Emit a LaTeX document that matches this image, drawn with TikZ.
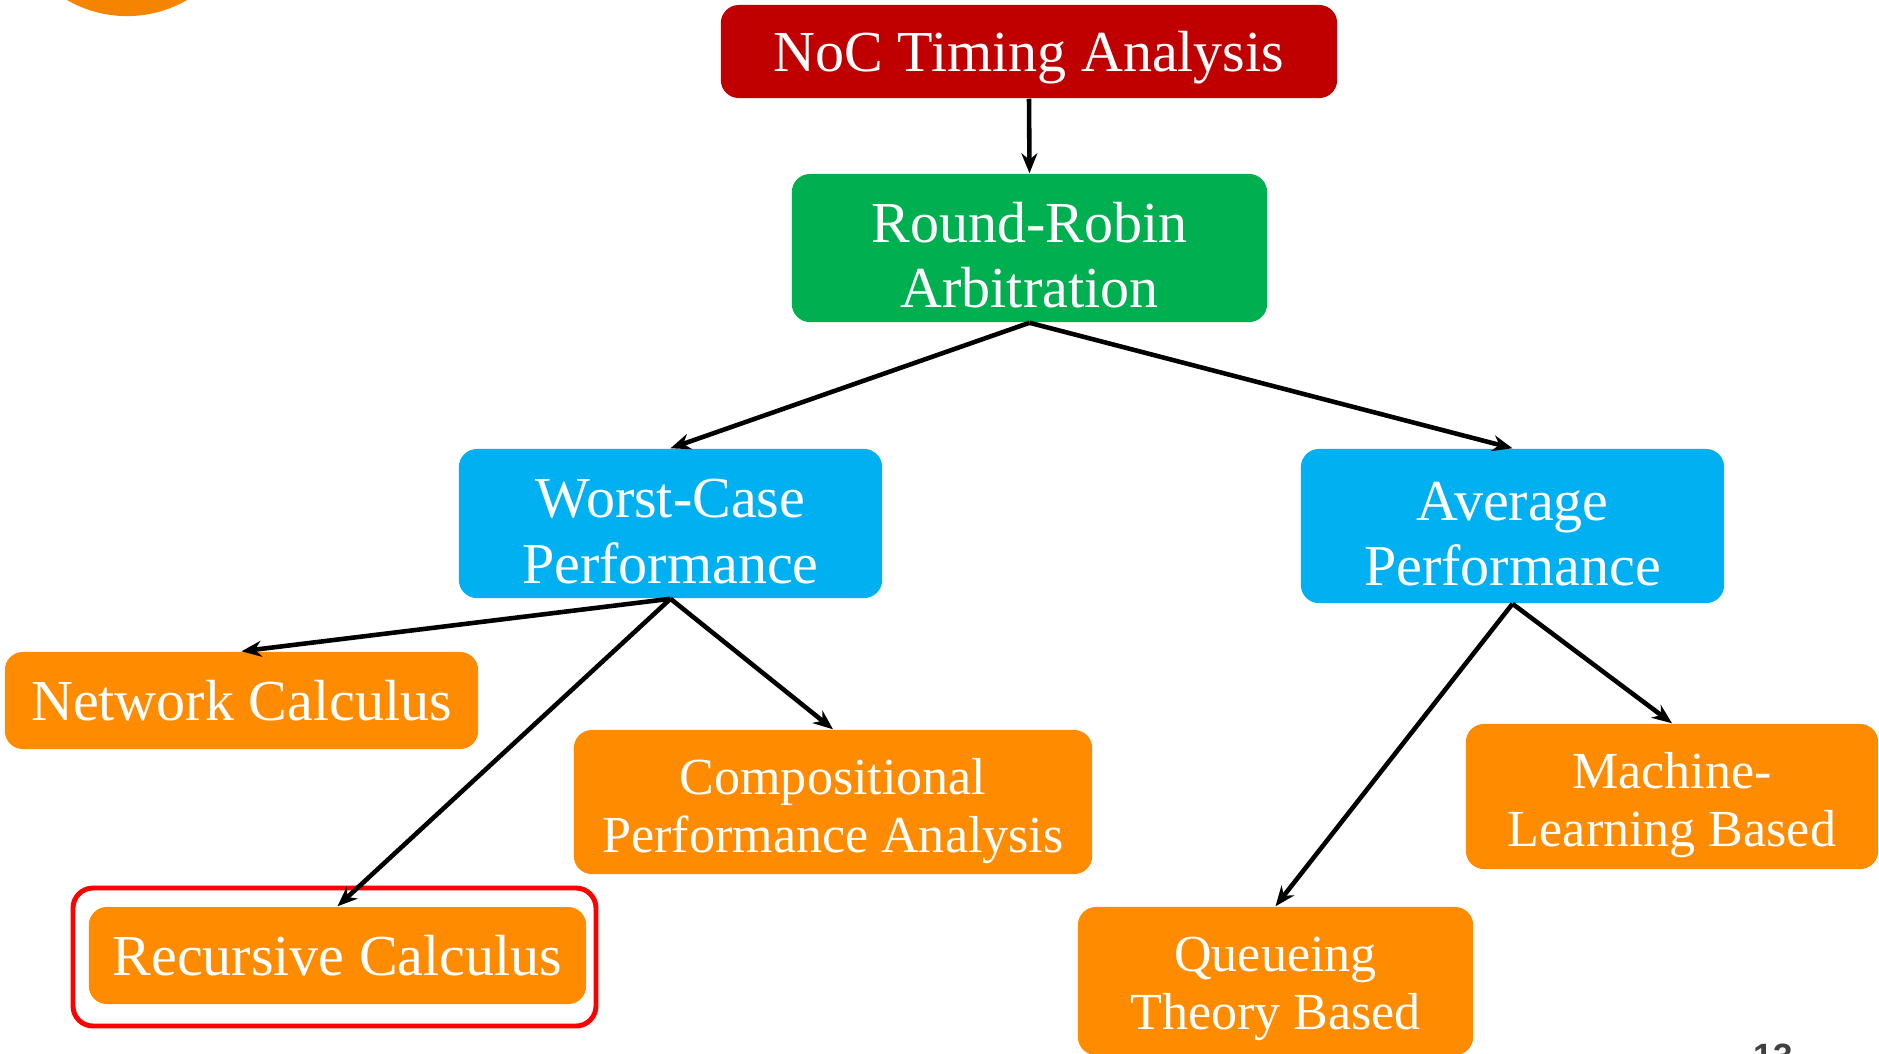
\documentclass[tikz,border=0pt]{standalone}
\usepackage{fontspec}
\setmainfont{Liberation Serif}
\newfontfamily\numfont{Liberation Sans}
\usetikzlibrary{arrows.meta,positioning}
\definecolor{nocred}{RGB}{192,0,0}
\definecolor{rrgreen}{RGB}{0,176,80}
\definecolor{perfblue}{RGB}{0,176,240}
\definecolor{methorange}{RGB}{255,139,0}
\definecolor{dotorange}{RGB}{245,132,0}
\definecolor{hilite}{RGB}{255,0,0}
\definecolor{pagegray}{RGB}{64,64,64}
\newcommand{\topstrut}[1]{\rule{0pt}{#1}}
\tikzset{
  box/.style={rounded corners=0.18cm,text=white,align=center,inner sep=0pt,text depth=0pt},
  bigtxt/.style={font=\fontsize{16.5}{18.6}\selectfont},
  smalltxt/.style={font=\fontsize{14.8}{16.4}\selectfont},
  link/.style={-{Stealth[length=0.2cm,width=0.16cm]},line width=1.3pt}
}

\begin{document}
\begin{tikzpicture}[x=0.01cm,y=-0.01cm]
    \useasboundingbox (0,0) rectangle (1879,1053);
    % slide decoration
    \fill[dotorange] (127,-104) circle[radius=1.2cm];
    \node[font=\numfont\bfseries\fontsize{10}{12}\selectfont,text=pagegray,anchor=base,inner sep=0pt] (pnum) at (1773,1068) {13};
    % tree
    \node[box,bigtxt,fill=nocred,minimum width=6.16cm,minimum height=0.93cm] (noc) at (1029,51.5) {NoC Timing Analysis};
    \node[box,bigtxt,fill=rrgreen,minimum width=4.75cm,minimum height=1.48cm] (rr) at (1029.5,248) {\topstrut{15.3pt}Round-Robin\\Arbitration};
    \node[box,bigtxt,fill=perfblue,minimum width=4.23cm,minimum height=1.49cm] (wc) at (670.5,523.5) {\topstrut{15.3pt}Worst-Case\\Performance};
    \node[box,bigtxt,fill=perfblue,minimum width=4.23cm,minimum height=1.54cm] (avg) at (1512.5,526) {\topstrut{15.3pt}Average\\Performance};
    \node[box,bigtxt,fill=methorange,minimum width=4.73cm,minimum height=0.97cm] (nc) at (241.5,700.5) {Network Calculus};
    \node[box,smalltxt,fill=methorange,minimum width=5.18cm,minimum height=1.44cm] (comp) at (833,802) {\topstrut{12.1pt}Compositional\\Performance Analysis};
    \node[box,bigtxt,fill=methorange,minimum width=4.97cm,minimum height=0.97cm] (rec) at (337.5,955.5) {Recursive Calculus};
    \node[box,smalltxt,fill=methorange,minimum width=4.12cm,minimum height=1.45cm] (ml) at (1672,796.5) {\topstrut{12.1pt}Machine-\\Learning Based};
    \node[box,smalltxt,fill=methorange,minimum width=3.95cm,minimum height=1.48cm] (qt) at (1275.5,981) {\topstrut{11pt}Queueing\\Theory Based};
    % highlight round the chosen method
    \draw[hilite,line width=1.4pt,rounded corners=0.2cm] (73,888) rectangle (596,1026);
    \foreach \a/\b in {noc/rr,rr/wc,rr/avg,wc/nc,wc/rec,wc/comp,avg/qt,avg/ml}
      \draw[link] (\a.south) -- (\b.north);
\end{tikzpicture}
\end{document}
